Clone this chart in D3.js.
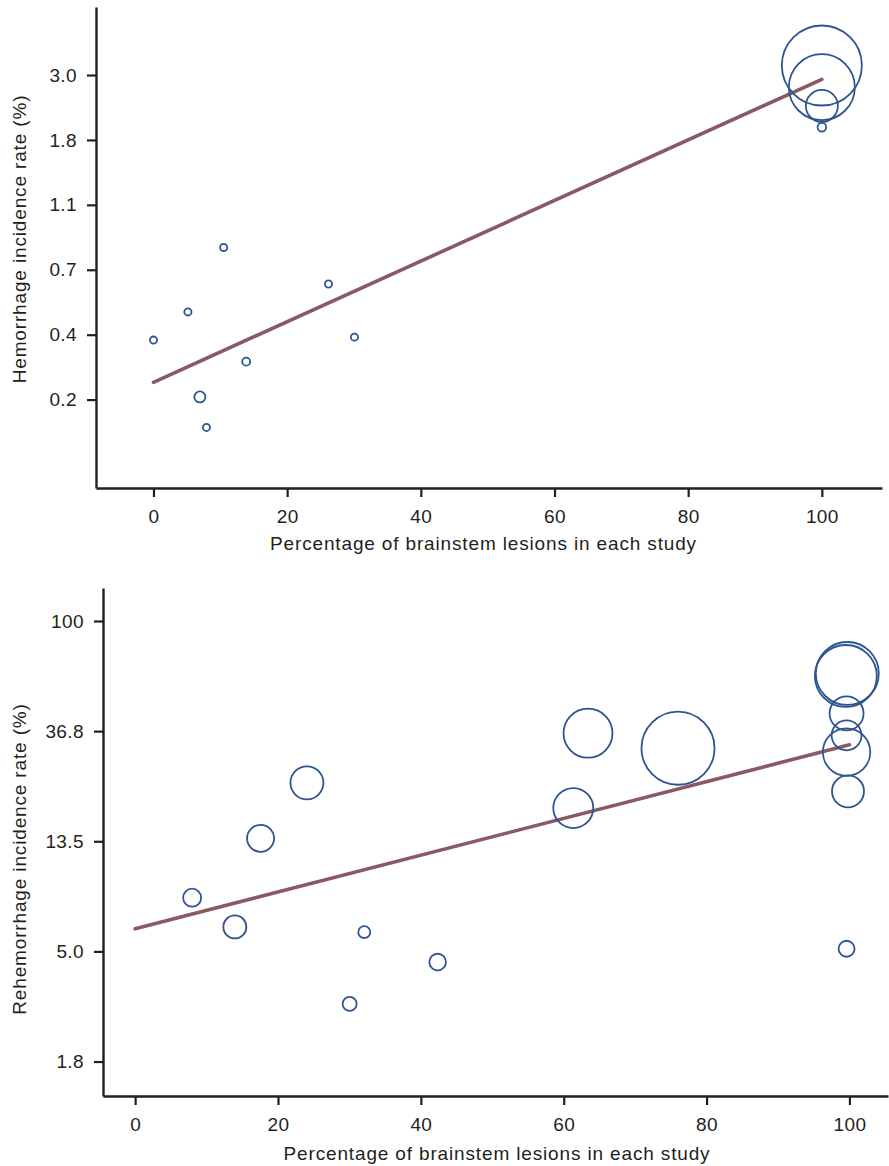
<!DOCTYPE html>
<html>
<head>
<meta charset="utf-8">
<script src="https://cdn.jsdelivr.net/npm/d3@7"></script>
<style>
  html, body { margin: 0; padding: 0; background: #fff; }
  svg text { font-family: "Liberation Sans", Arial, Helvetica, sans-serif; fill: #231f20; }
</style>
</head>
<body>
<svg id="chart" width="889" height="1166"></svg>
<script>
// ---------- Data: top panel (hemorrhage) ----------
const topX      = [0, 5.15, 10.5, 13.87, 6.94, 7.93, 26.18, 30.07, 100, 100, 100, 100];
const topRate   = [0.392, 0.487, 0.80, 0.332, 0.253, 0.200, 0.604, 0.401, 3.25, 2.75, 2.38, 2.02];
const topWeight = [0.8, 0.8, 0.8, 1.0, 1.9, 0.8, 0.8, 0.8, 100, 68, 16, 1.15];
const topFit    = { intercept: -5.867, slope: 0.02334 };   // ln(rate) vs % brainstem
const topYTickLog    = [-6, -5.5, -5, -4.5, -4, -3.5];
const topYTickLabels = ["0.2", "0.4", "0.7", "1.1", "1.8", "3.0"];

// ---------- Data: bottom panel (rehemorrhage) ----------
const botX      = [7.98, 13.96, 17.56, 24.05, 32.08, 30.03, 42.35, 61.34, 63.4, 76.0, 99.7, 99.5, 99.6, 99.6, 99.6, 99.8, 99.6];
const botRate   = [8.11, 6.22, 13.9, 23.0, 5.93, 3.09, 4.52, 18.3, 36.1, 31.5, 62.1, 60.7, 43.2, 35.4, 30.4, 21.3, 5.1];
const botWeight = [5.06, 8.27, 11.4, 17.0, 2.25, 3.06, 4.3, 25.0, 37.5, 83.3, 62.0, 60.0, 18.0, 14.0, 35.1, 16.0, 4.0];
const botFit    = { intercept: -2.795, slope: 0.01671 };
const botYTickLog    = [-4, -3, -2, -1, 0];
const botYTickLabels = ["1.8", "5.0", "13.5", "36.8", "100"];

const xTicks = [0, 20, 40, 60, 80, 100];
const xTitle = "Percentage of brainstem lesions in each study";
const topYTitle = "Hemorrhage incidence rate (%)";
const botYTitle = "Rehemorrhage incidence rate (%)";

// ---------- Drawing ----------
const svg = d3.select("#chart");
const circleColor = "#2e5590";
const lineColor = "#8a5a62";
const axisColor = "#231f20";
const rScale = d3.scaleSqrt().domain([0, 100]).range([0, 40]);

function panel(cfg) {
  const g = svg.append("g");
  const x = d3.scaleLinear().domain(cfg.xDomain).range([cfg.left, cfg.right]);
  const y = d3.scaleLinear().domain(cfg.yDomain).range([cfg.bottom, cfg.top]);

  // regression line
  const fitPts = [0, 100].map(v => [x(v), y(cfg.fit.intercept + cfg.fit.slope * v)]);
  g.append("path")
    .attr("d", d3.line()(fitPts))
    .attr("fill", "none")
    .attr("stroke", lineColor)
    .attr("stroke-width", 3.6)
    .attr("stroke-linecap", "round");

  // bubbles
  const pts = cfg.xs.map((v, i) => ({ x: v, r: cfg.rates[i], w: cfg.weights[i] }));
  g.append("g").selectAll("circle").data(pts).join("circle")
    .attr("cx", d => x(d.x))
    .attr("cy", d => y(Math.log(d.r / 100)))
    .attr("r", d => rScale(d.w))
    .attr("fill", "none")
    .attr("stroke", circleColor)
    .attr("stroke-width", 1.8);

  // axes
  const xa = g.append("g").attr("transform", `translate(0,${cfg.bottom})`)
    .call(d3.axisBottom(x).tickValues(xTicks).tickFormat(d3.format("d"))
      .tickSize(9).tickSizeOuter(0).tickPadding(13));
  const ya = g.append("g").attr("transform", `translate(${cfg.left},0)`)
    .call(d3.axisLeft(y).tickValues(cfg.yTicks).tickFormat((d, i) => cfg.yLabels[i])
      .tickSize(9).tickSizeOuter(0).tickPadding(10));
  [xa, ya].forEach(a => {
    a.select(".domain").attr("stroke", axisColor).attr("stroke-width", 2.4);
    a.selectAll(".tick line").attr("stroke", axisColor).attr("stroke-width", 2.2);
    a.selectAll(".tick text").attr("font-size", 19).attr("letter-spacing", "0.4px")
      .style("fill", axisColor);
  });

  // titles
  g.append("text")
    .attr("x", cfg.xTitleX).attr("y", cfg.bottom + cfg.xTitleDy)
    .attr("text-anchor", "middle").attr("font-size", 19).attr("letter-spacing", "0.85px")
    .text(xTitle);
  g.append("text")
    .attr("transform", `translate(26,${cfg.yTitleY}) rotate(-90)`)
    .attr("text-anchor", "middle").attr("font-size", 19).attr("letter-spacing", "0.85px")
    .text(cfg.yTitle);
}

panel({
  xs: topX, rates: topRate, weights: topWeight, fit: topFit,
  yTicks: topYTickLog, yLabels: topYTickLabels, yTitle: topYTitle,
  xDomain: [-8.6, 109], yDomain: [-6.681, -2.976],
  left: 96, right: 882, top: 7, bottom: 488,
  xTitleX: 483.5, xTitleDy: 62, yTitleY: 239
});

panel({
  xs: botX, rates: botRate, weights: botWeight, fit: botFit,
  yTicks: botYTickLog, yLabels: botYTickLabels, yTitle: botYTitle,
  xDomain: [-4.5, 105.4], yDomain: [-4.313, 0.2997],
  left: 103, right: 888, top: 588, bottom: 1096,
  xTitleX: 497, xTitleDy: 64, yTitleY: 859
});
</script>
</body>
</html>
